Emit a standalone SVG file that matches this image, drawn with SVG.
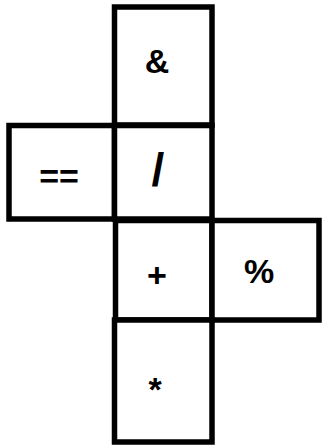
<svg xmlns="http://www.w3.org/2000/svg" width="324" height="448" viewBox="0 0 324 448">
<style>
.box{fill:#fff;stroke:#000;stroke-width:5.5}
.lbl{font-family:"Liberation Sans",Arial,sans-serif;font-weight:bold;font-size:34px;fill:#000;text-anchor:middle}
</style>
<rect width="324" height="448" fill="#fff"/>
<g id="node-amp"><rect class="box" x="114.5" y="7" width="97.5" height="118"/><text class="lbl" x="157" y="73">&amp;</text></g>
<g id="node-eq"><rect class="box" x="9" y="125.5" width="105.5" height="93.5"/><text class="lbl" x="59" y="188">==</text></g>
<g id="node-div"><rect class="box" x="114.5" y="125.5" width="97.5" height="93.5"/><text class="lbl" x="158" y="186" style="font-size:46px">/</text></g>
<g id="node-plus"><rect class="box" x="115.5" y="220.5" width="96.5" height="99.5"/><text class="lbl" x="157" y="287">+</text></g>
<g id="node-mod"><rect class="box" x="212" y="220.5" width="107" height="99.5"/><text class="lbl" x="259" y="283">%</text></g>
<g id="node-mul"><rect class="box" x="114.5" y="320" width="97.5" height="122"/><text class="lbl" x="155" y="401">*</text></g>
<g id="connectors"/>
</svg>
